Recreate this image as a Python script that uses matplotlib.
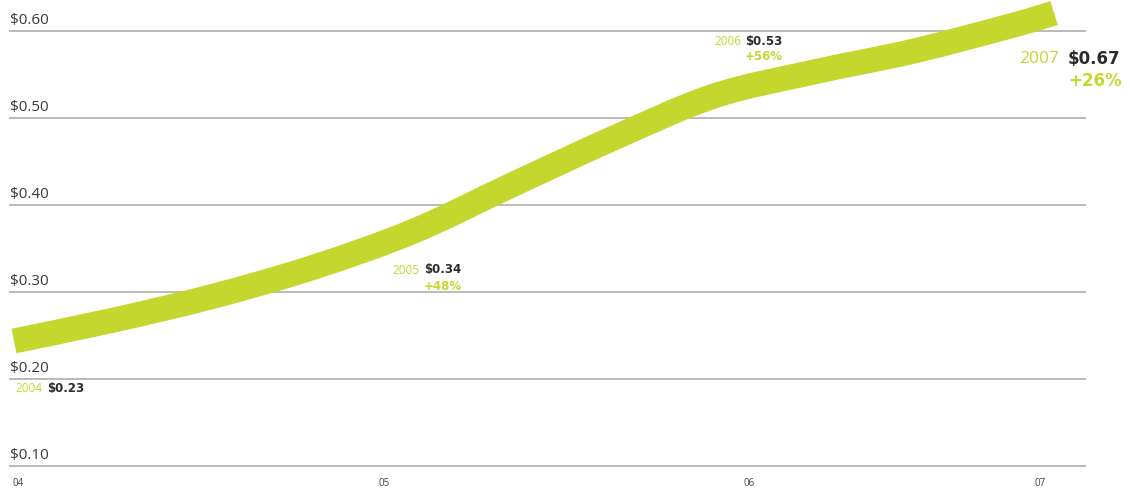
import matplotlib
matplotlib.use("Agg")
import matplotlib.pyplot as plt
from matplotlib.path import Path
from matplotlib.patches import PathPatch

# ---- data ----
years = [2003.989, 2004.262, 2004.536, 2004.809, 2005.082, 2005.355, 2005.628,
         2005.902, 2006.175, 2006.448, 2006.721, 2006.831]
eps = [0.2437, 0.2678, 0.2954, 0.3287, 0.3701, 0.4241, 0.4770,
       0.5253, 0.5529, 0.5770, 0.6069, 0.6207]
ytick_values = [0.10, 0.20, 0.30, 0.40, 0.50, 0.60]
ytick_labels = ["$0.10", "$0.20", "$0.30", "$0.40", "$0.50", "$0.60"]
xtick_pos = [2004.0, 2005.0, 2005.997, 2006.792]
xtick_labels = ["04", "05", "06", "07"]
ann_years = ["2004", "2005", "2006", "2007"]
ann_values = ["$0.23", "$0.34", "$0.53", "$0.67"]
ann_growth = [None, "+48%", "+56%", "+26%"]

GREEN = "#C3D72E"
DARK = "#2B2B2B"
GRID = "#B4B4B4"
FONT = "Open Sans"
BOLD = "DejaVu Sans"

W, H = 1130, 489
fig = plt.figure(figsize=(W / 100, H / 100), dpi=100)
ax = fig.add_axes([10 / W, 22 / H, 1075 / W, 467 / H])
ax.set_xlim(2004 - 8 / 366, 2004 + 1067 / 366)
ax.set_ylim(0.10, 0.10 + 467 / 870)
for s in ax.spines.values():
    s.set_visible(False)
ax.set_yticks([])

for v, lab in zip(ytick_values, ytick_labels):
    ax.axhline(v, color=GRID, lw=1.3, zorder=1, clip_on=False)
    ax.annotate(lab, xy=(0, v), xycoords=("axes fraction", "data"),
                xytext=(0, 3), textcoords="offset points", ha="left", va="bottom",
                fontsize=11, color="#3a3a3a", family=FONT)

ax.set_xticks(xtick_pos)
ax.set_xticklabels(xtick_labels, fontsize=7, color="#444444", family=FONT)
ax.tick_params(axis="x", length=0, pad=8)

# smooth curve through the read points (Catmull-Rom rendered as Bezier)
pts = list(zip(years, eps))
verts = [pts[0]]
codes = [Path.MOVETO]
n = len(pts)
for i in range(n - 1):
    p0 = pts[i - 1] if i > 0 else pts[i]
    p1 = pts[i]
    p2 = pts[i + 1]
    p3 = pts[i + 2] if i + 2 < n else pts[i + 1]
    c1 = (p1[0] + (p2[0] - p0[0]) / 6, p1[1] + (p2[1] - p0[1]) / 6)
    c2 = (p2[0] - (p3[0] - p1[0]) / 6, p2[1] - (p3[1] - p1[1]) / 6)
    verts += [c1, c2, p2]
    codes += [Path.CURVE4] * 3
patch = PathPatch(Path(verts, codes), facecolor="none", edgecolor=GREEN, lw=18,
                  capstyle="butt", joinstyle="round", zorder=3, clip_on=False)
ax.add_patch(patch)

def ptxt(x, y, s, **kw):
    fig.text(x / W, 1 - y / H, s, **kw)

# annotations (pixel layout)
small = dict(fontsize=8.5, va="center")
ptxt(42, 389, ann_years[0], ha="right", color=GREEN, family=FONT, **small)
ptxt(47, 389, ann_values[0], ha="left", color=DARK, fontweight="bold", family=BOLD, **small)

ptxt(419, 270, ann_years[1], ha="right", color=GREEN, family=FONT, **small)
ptxt(424, 270, ann_values[1], ha="left", color=DARK, fontweight="bold", family=BOLD, **small)
ptxt(424, 286, ann_growth[1], ha="left", color=GREEN, fontweight="bold", family=BOLD, **small)

ptxt(741, 42, ann_years[2], ha="right", color=GREEN, family=FONT, **small)
ptxt(745, 42, ann_values[2], ha="left", color=DARK, fontweight="bold", family=BOLD, **small)
ptxt(745, 57, ann_growth[2], ha="left", color=GREEN, fontweight="bold", family=BOLD, **small)

big = dict(va="center")
ptxt(1059, 59, ann_years[3], ha="right", color=GREEN, family=FONT, fontsize=12.5, **big)
ptxt(1068, 59, ann_values[3], ha="left", color=DARK, fontweight="bold", family=BOLD, fontsize=12, **big)
ptxt(1068, 81, ann_growth[3], ha="left", color=GREEN, fontweight="bold", family=BOLD, fontsize=12, **big)

fig.savefig("out.png", dpi=100)
